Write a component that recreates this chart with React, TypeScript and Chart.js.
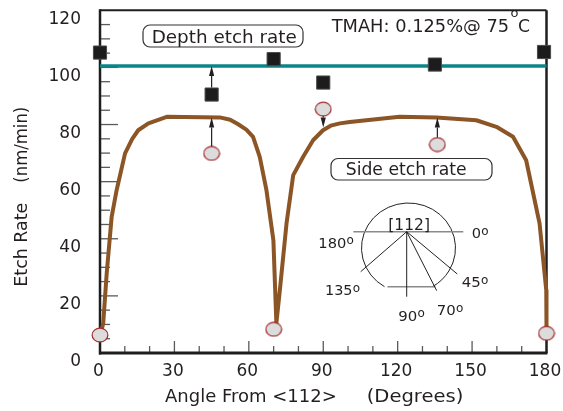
import React, { useEffect, useRef } from 'react';
import { Chart, registerables } from 'chart.js';
Chart.register(...registerables);

const FONT = '"DejaVu Sans", sans-serif';
const INK = '#231f20';

// Axis settings
const xMin = 0, xMax = 180, xStep = 30;
const yMin = 0, yMax = 120, yStep = 20;

// Side etch rate fitted curve (degrees, nm/min)
const sideCurveAngles = [0.5, 1.3, 2.7, 4.7, 6.7, 10.1, 13, 15.4, 19.5, 26.9, 48.3, 52.5, 55.7, 59, 61.7, 64.4, 67.1, 69.9, 71.1, 72.5, 75.2, 77.9, 81.9, 85.9, 89.9, 93, 96.7, 100.7, 120.8, 135.6, 151.7, 159.8, 166.5, 171.8, 177.2, 179.9, 180];
const sideCurveRates = [7.5, 10.4, 27.9, 47.7, 57, 69.9, 75, 78, 80.4, 82.7, 82.5, 81.7, 80.1, 78.2, 75.7, 68.7, 57, 39.5, 10.4, 22, 45.4, 62.3, 68.7, 74.5, 78, 79.6, 80.4, 80.9, 82.7, 82.5, 81.5, 79.2, 75.7, 67.5, 45.4, 22, 8];

// Depth etch rate fitted line
const depthFitAngles = [0, 180];
const depthFitRates = [100.5, 100.5];

// Measured depth etch rate (squares)
const depthAngles = [0, 45, 70, 90, 135, 179];
const depthRates = [105.2, 90.5, 102.9, 94.7, 101, 105.4];

// Measured side etch rate (circles)
const sideAngles = [0, 45, 70, 90, 136, 180];
const sideRates = [6.3, 69.9, 8.3, 85.4, 73, 6.9];

// Arrows from measured points to the fitted values
const arrowAngles = [45, 45, 90, 136];
const arrowFrom = [90.5, 69.9, 85.4, 73];
const arrowTo = [100.5, 82.5, 79, 82.5];

function makeEllipse() {
  const c = document.createElement('canvas');
  c.width = 18; c.height = 16;
  const g = c.getContext('2d')!;
  g.beginPath();
  g.ellipse(9, 8, 7.9, 6.9, 0, 0, Math.PI * 2);
  g.fillStyle = '#dcdcdc';
  g.fill();
  g.lineWidth = 1.2;
  g.strokeStyle = '#a3282c';
  g.stroke();
  return c;
}

function line(ctx: CanvasRenderingContext2D, x1: number, y1: number, x2: number, y2: number) {
  ctx.beginPath(); ctx.moveTo(x1, y1); ctx.lineTo(x2, y2); ctx.stroke();
}

// draw text starting at x (left), baseline y, stretched to width w
function fitText(ctx: CanvasRenderingContext2D, t: string, x: number, y: number, w: number, size: number, rot = 0) {
  ctx.save();
  ctx.font = `${size}px ${FONT}`;
  ctx.textAlign = 'left';
  ctx.textBaseline = 'alphabetic';
  const m = ctx.measureText(t).width;
  ctx.translate(x, y);
  if (rot) ctx.rotate(rot);
  ctx.scale(w / m, 1);
  ctx.fillText(t, 0, 0);
  ctx.restore();
}

function degLabel(ctx: CanvasRenderingContext2D, t: string, x: number, yb: number, w: number) {
  fitText(ctx, t, x, yb, w, 13.5);
  ctx.save();
  ctx.font = `12px ${FONT}`;
  ctx.textAlign = 'left';
  ctx.textBaseline = 'alphabetic';
  ctx.fillText('o', x + w + 0.3, yb - 3.5);
  ctx.restore();
}

function roundBox(ctx: CanvasRenderingContext2D, x: number, y: number, w: number, h: number, r: number) {
  ctx.beginPath();
  ctx.moveTo(x + r, y);
  ctx.arcTo(x + w, y, x + w, y + h, r);
  ctx.arcTo(x + w, y + h, x, y + h, r);
  ctx.arcTo(x, y + h, x, y, r);
  ctx.arcTo(x, y, x + w, y, r);
  ctx.closePath();
  ctx.fillStyle = '#fff';
  ctx.fill();
  ctx.strokeStyle = '#333';
  ctx.lineWidth = 1.2;
  ctx.stroke();
}

const decor = {
  id: 'decor',
  beforeDatasetsDraw(chart: any) {
    const { ctx, chartArea: a, scales } = chart;
    const x = scales.x, y = scales.y;
    ctx.save();
    ctx.strokeStyle = '#5a5a5a';
    ctx.lineWidth = 1.3;
    for (let v = 5; v < yMax; v += 5) {
      const py = y.getPixelForValue(v);
      line(ctx, a.left, py, a.left + (v % 20 === 0 ? 18 : 10), py);
    }
    for (let d = 10; d < xMax; d += 10) {
      const px = x.getPixelForValue(d);
      line(ctx, px, a.bottom, px, a.bottom - (d % 30 === 0 ? 12 : 7));
    }
    ctx.strokeStyle = '#1e1e1e';
    ctx.lineWidth = 2;
    line(ctx, a.left, a.top, a.right, a.top);
    ctx.lineWidth = 2.5;
    line(ctx, a.right, a.top, a.right, a.bottom);
    line(ctx, a.left, a.top - 1, a.left, a.bottom + 1.5);
    ctx.lineWidth = 3;
    line(ctx, a.left - 1, a.bottom, a.right + 1, a.bottom);
    ctx.restore();
  },
  afterDatasetsDraw(chart: any) {
    const { ctx, scales } = chart;
    const x = scales.x, y = scales.y;
    ctx.save();
    // arrows
    ctx.strokeStyle = INK; ctx.fillStyle = INK; ctx.lineWidth = 1.2;
    for (let i = 0; i < arrowAngles.length; i++) {
      const px = x.getPixelForValue(arrowAngles[i]);
      const y0 = y.getPixelForValue(arrowFrom[i]);
      const y1 = y.getPixelForValue(arrowTo[i]);
      const dir = y1 < y0 ? -1 : 1;
      const start = y0 + dir * 7;
      const headLen = 10;
      line(ctx, px, start, px, y1 - dir * headLen);
      ctx.beginPath();
      ctx.moveTo(px, y1);
      ctx.lineTo(px - 2.6, y1 - dir * headLen);
      ctx.lineTo(px + 2.6, y1 - dir * headLen);
      ctx.closePath();
      ctx.fill();
    }
    // label boxes
    roundBox(ctx, 143, 25, 160, 22, 7);
    roundBox(ctx, 331, 158.5, 161, 21.5, 7);
    ctx.fillStyle = INK;
    fitText(ctx, 'Depth etch rate', 151.7, 42.6, 145, 18);
    fitText(ctx, 'Side etch rate', 345.7, 175.3, 121, 18);
    // condition text
    fitText(ctx, 'TMAH: 0.125%@ 75', 331.7, 32.3, 177.5, 18);
    ctx.font = `13px ${FONT}`;
    ctx.textAlign = 'left';
    ctx.fillText('o', 510.5, 17.3);
    fitText(ctx, 'C', 518, 32.3, 12, 18);
    // axis titles
    fitText(ctx, 'Angle From <112>', 165, 401.5, 171.7, 17.5);
    fitText(ctx, '(Degrees)', 366.7, 401.5, 96.6, 17.5);
    fitText(ctx, 'Etch Rate', 26.8, 286.7, 84, 17, -Math.PI / 2);
    fitText(ctx, '(nm/min)', 26.8, 182.7, 76, 17, -Math.PI / 2);
    // inset wafer diagram
    const cx = 408.5, cy = 248, rx = 47, ry = 45;
    const fy = 286.7;
    const t = Math.asin((fy - cy) / ry);
    ctx.strokeStyle = '#222';
    ctx.lineWidth = 1;
    ctx.beginPath();
    ctx.ellipse(cx, cy, rx, ry, 0, Math.PI - t, 2 * Math.PI + t);
    ctx.stroke();
    ctx.strokeStyle = '#8a8a8a';
    ctx.lineWidth = 1.6;
    line(ctx, cx - rx * Math.cos(t) + 3, fy, cx + rx * Math.cos(t) + 3, fy);
    const ox = 406.7, oy = 231.7;
    line(ctx, 353.3, oy, 463.3, oy);
    ctx.strokeStyle = '#222';
    ctx.lineWidth = 1;
    line(ctx, ox, oy, 360.7, 271.7);
    line(ctx, ox, oy, ox, 296.7);
    line(ctx, ox, oy, 436.7, 290.7);
    line(ctx, ox, oy, 457.3, 274);
    ctx.fillStyle = INK;
    fitText(ctx, '[112]', 388.3, 229.5, 41.7, 15);
    degLabel(ctx, '180', 318.3, 247.7, 28);
    degLabel(ctx, '0', 471.7, 238, 9.3);
    degLabel(ctx, '135', 325, 295, 27.5);
    degLabel(ctx, '45', 461.7, 287.3, 19);
    degLabel(ctx, '70', 436.7, 315, 19);
    degLabel(ctx, '90', 398.3, 320.7, 19);
    ctx.restore();
  },
};

export default function App() {
  const ref = useRef<HTMLCanvasElement>(null);
  useEffect(() => {
    document.body.style.margin = '0';
    const ellipse = makeEllipse();
    const pts = (xs: number[], ys: number[]) => xs.map((v, i) => ({ x: v, y: ys[i] }));
    const chart = new Chart(ref.current!, {
      type: 'line',
      data: {
        datasets: [
          {
            label: 'Side measured',
            data: pts(sideAngles, sideRates),
            showLine: false,
            pointStyle: ellipse as any,
            pointRadius: 8,
            clip: false as any,
          },
          {
            label: 'Depth measured',
            data: pts(depthAngles, depthRates),
            showLine: false,
            pointStyle: 'rect',
            pointRadius: 9.3,
            pointBackgroundColor: '#1c1c1c',
            pointBorderColor: '#4a4a4a',
            pointBorderWidth: 1,
            clip: false as any,
          },
          {
            label: 'Depth etch rate',
            data: pts(depthFitAngles, depthFitRates),
            borderColor: '#0b8688',
            borderWidth: 3.5,
            pointRadius: 0,
            clip: false as any,
          },
          {
            label: 'Side etch rate',
            data: pts(sideCurveAngles, sideCurveRates),
            borderColor: '#8c5526',
            borderWidth: 4,
            pointRadius: 0,
            tension: 0,
            borderJoinStyle: 'round',
            borderCapStyle: 'round',
            clip: false as any,
          },
        ],
      },
      options: {
        animation: false,
        responsive: true,
        maintainAspectRatio: false,
        layout: { padding: { left: 0, top: 10, right: 16.5, bottom: 0 } },
        plugins: { legend: { display: false }, tooltip: { enabled: false } },
        scales: {
          x: {
            type: 'linear',
            min: xMin, max: xMax,
            grid: { display: false, drawTicks: false },
            border: { display: false },
            ticks: { stepSize: xStep, padding: 8, labelOffset: -1.5, color: INK, font: { family: FONT, size: 17 }, maxRotation: 0 },
            afterFit: (s: any) => { s.height = 58; s.paddingLeft = 0; s.paddingRight = 0; },
          },
          y: {
            type: 'linear',
            min: yMin, max: yMax,
            grid: { display: false, drawTicks: false },
            border: { display: false },
            ticks: { stepSize: yStep, padding: 19, labelOffset: 9, color: INK, font: { family: FONT, size: 17 } },
            afterFit: (s: any) => { s.width = 100; s.paddingTop = 0; s.paddingBottom = 0; },
          },
        },
      },
      plugins: [decor],
    });
    return () => chart.destroy();
  }, []);
  return (
    <div style={{ width: 563, height: 411, position: 'relative' }}>
      <canvas ref={ref} />
    </div>
  );
}
